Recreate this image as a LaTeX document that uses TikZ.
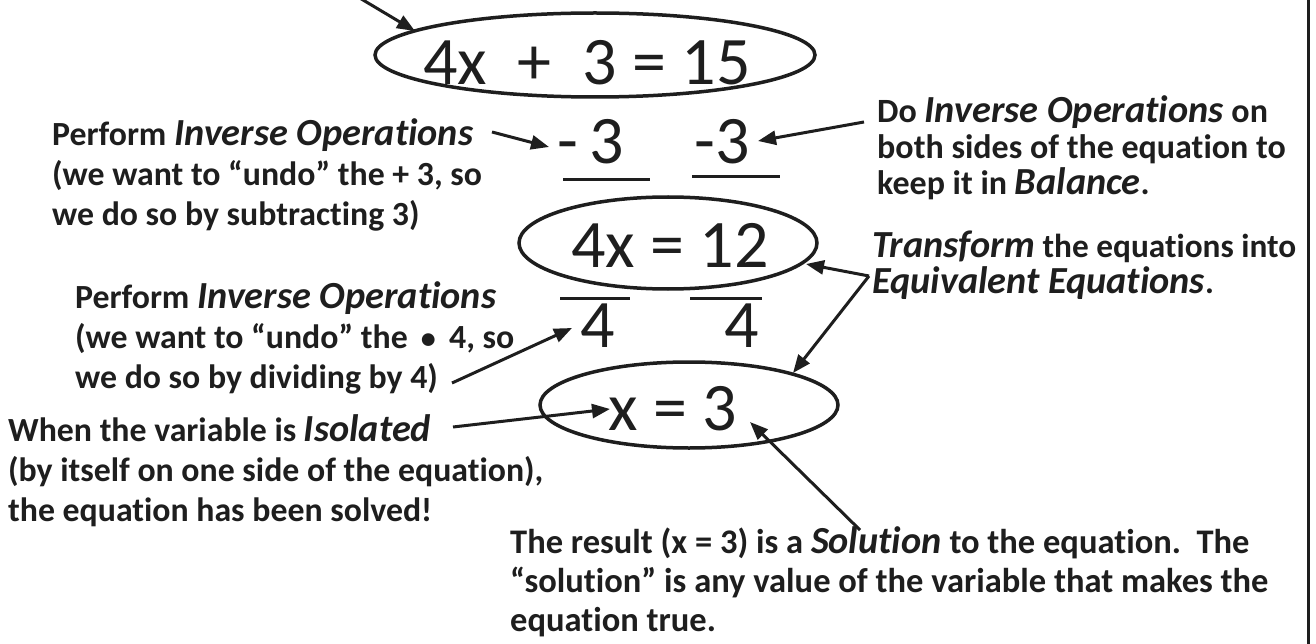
\documentclass[tikz,border=0pt]{standalone}
\usepackage{fontspec}
\setmainfont{Carlito}[Ligatures=NoCommon]
\usetikzlibrary{arrows.meta,shapes.geometric}
\definecolor{ink}{HTML}{1E1E1E}
\newcommand{\bi}[1]{{\fontsize{38.3}{40}\selectfont\bfseries\itshape #1}}
\newcommand{\tp}{\rule{0pt}{32pt}}
\newcommand{\nls}{\lineskiplimit-60pt\relax}
\newcommand{\fa}{\fontsize{33.8}{40}\selectfont\bfseries\nls}
\newcommand{\fb}{\fontsize{34}{36}\selectfont\bfseries\nls}
\newcommand{\fd}{\fontsize{33.3}{36}\selectfont\bfseries\nls}
\newcommand{\fc}{\fontsize{34.5}{39}\selectfont\bfseries\nls}
\begin{document}
\begin{tikzpicture}[x=1pt,y=-1pt,
  note/.style={align=left, inner sep=0pt, anchor=north west, text=ink},
  eq/.style={font=\fontsize{68}{68}\selectfont, inner sep=0pt, anchor=base, text=ink},
  ring/.style={draw=ink, line width=3.5pt, ellipse, inner sep=0pt},
  arr/.style={draw=ink, line width=3pt, -{Triangle[length=18pt,width=14pt]}},
  rulebar/.style={draw=ink, line width=3pt}]
\useasboundingbox (0,0) rectangle (1316,644);
\fill[white] (0,0) rectangle (1316,644);
% frame line at the right
\draw[ink, line width=3pt] (1308,0) -- (1308,644);

% equations
\node[ring, minimum width=440pt, minimum height=84pt] (e1) at (595,55) {};
\node[eq] (q1) at (587,85) {4x\hspace{0.45em}+\hspace{0.45em}3 = 15};
\node[eq] (q2) at (591,164) {-\,3};
\node[eq] (q3) at (722,164) {-3};
\draw[rulebar] (563,180) -- (650,180);
\draw[rulebar] (692,177) -- (780,177);
\node[ring, minimum width=298pt, minimum height=92pt] (e2) at (668,243) {};
\node[eq] (q4) at (670,267) {4x = 12};
\draw[rulebar] (560,298) -- (630,298);
\draw[rulebar] (690,298) -- (762,298);
\node[eq] (f1) at (598,347) {4};
\node[eq] (f2) at (742,347) {4};
\node[ring, minimum width=298pt, minimum height=86pt] (e3) at (689,405) {};
\node[eq] (q5) at (673,430) {x = 3};

% notes
\node[note, font=\fa] (b1) at (52,113) {\tp Perform \bi{Inverse Operations}\\(we want to “undo” the + 3, so\\we do so by subtracting 3)};
\node[note, font=\fb] (b2) at (877,90) {\tp Do \bi{Inverse Operations} on\\both sides of the equation to\\keep it in \bi{Balance}.};
\node[note, font=\fd] (b3) at (872,225) {\tp\bi{Transform} the equations into\\\bi{Equivalent Equations}.};
\node[note, font=\fa] (b4) at (75,276) {\tp Perform \bi{Inverse Operations}\\(we want to “undo” the \,{\fontsize{30}{40}\selectfont •}\, 4, so\\we do so by dividing by 4)};
\node[note, font=\fa] (b5) at (8,409) {\tp When the variable is \bi{Isolated}\\(by itself on one side of the equation),\\the equation has been solved!};
\node[note, font=\fc] (b6) at (510,521) {\tp The result (x = 3) is a \bi{Solution} to the equation.\ \ The\\“solution” is any value of the variable that makes the\\equation true.};

% connector ends
\coordinate (t0) at (358,-3);
\coordinate (t1) at (415,31);
\coordinate (a1s) at (492,132);
\coordinate (a1e) at (549,147);
\coordinate (a2s) at (864,122);
\coordinate (a2e) at (758,141);
\coordinate (jn) at (869,276);
\coordinate (j1) at (806,264);
\coordinate (j2) at (793,373);
\coordinate (a4s) at (452,383);
\coordinate (a4e) at (572,328);
\coordinate (a5s) at (453,427);
\coordinate (a5e) at (610,409);
\coordinate (a6s) at (860,530);
\coordinate (a6e) at (750,422);

\draw[arr] (t0) -- (t1);
\draw[arr] (a1s) -- (a1e);
\draw[arr] (a2s) -- (a2e);
\draw[arr] (jn) -- (j1);
\draw[arr] (jn) -- (j2);
\draw[arr] (a4s) -- (a4e);
\draw[arr] (a5s) -- (a5e);
\draw[arr] (a6s) -- (a6e);
\end{tikzpicture}
\end{document}
